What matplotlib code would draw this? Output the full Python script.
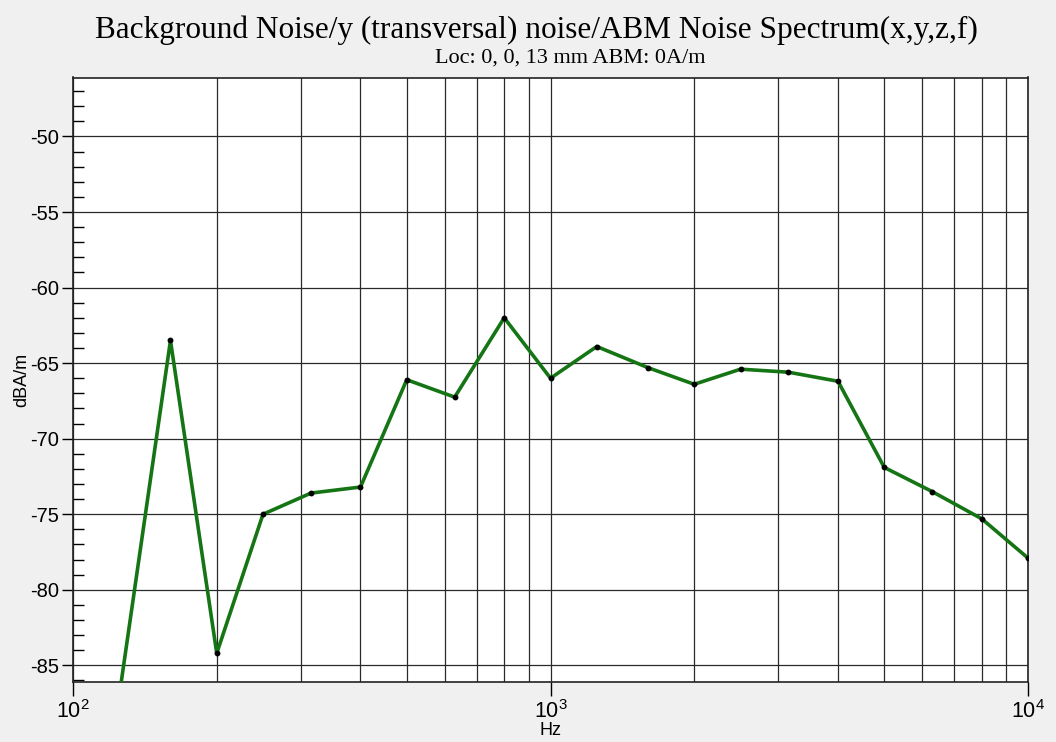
import matplotlib
matplotlib.use('Agg')
import matplotlib.pyplot as plt
from matplotlib.ticker import LogLocator, MultipleLocator, NullFormatter

# third-octave band centre frequencies (Hz) and measured noise (dBA/m)
freqs = [125, 160, 200, 250, 315, 400, 500, 630, 800, 1000,
         1250, 1600, 2000, 2500, 3150, 4000, 5000, 6300, 8000, 10000]
noise = [-87.0, -63.5, -84.2, -75.0, -73.6, -73.2, -66.1, -67.25, -62.0, -66.0,
         -63.9, -65.3, -66.4, -65.4, -65.6, -66.2, -71.9, -73.5, -75.3, -77.9]

title = "Background Noise/y (transversal) noise/ABM Noise Spectrum(x,y,z,f)"
subtitle = "Loc: 0, 0, 13 mm ABM: 0A/m"
xlabel = "Hz"
ylabel = "dBA/m"

plt.rcParams['font.family'] = ['Liberation Sans', 'DejaVu Sans']
plt.rcParams['mathtext.default'] = 'regular'
plt.rcParams['axes.unicode_minus'] = False

fig = plt.figure(figsize=(10.56, 7.42), dpi=100, facecolor='#f0f0f0')
ax = fig.add_axes([73 / 1056, 60 / 742, 955 / 1056, 604.5 / 742])
ax.set_facecolor('white')

ax.plot(freqs, noise, color='#157515', linewidth=2.6, marker='o',
        markersize=3.2, markerfacecolor='black', markeredgecolor='black',
        zorder=3)

ax.set_xscale('log')
ax.set_xlim(100, 10000)
ax.set_ylim(-86.1, -46.1)

# x axis: decades labelled, grid on every minor position
ax.xaxis.set_major_locator(LogLocator(base=10, numticks=10))
ax.xaxis.set_minor_locator(LogLocator(base=10, subs=range(2, 10), numticks=20))
ax.xaxis.set_minor_formatter(NullFormatter())
ax.tick_params(axis='x', which='major', direction='out', length=10, width=1,
               labelsize=15.5, pad=3)
ax.tick_params(axis='x', which='minor', length=0)

# y axis: labels every 5, small inward ticks every 1
ax.yaxis.set_major_locator(MultipleLocator(5))
ax.yaxis.set_minor_locator(MultipleLocator(1))
ax.tick_params(axis='y', which='major', direction='out', length=8, width=1,
               labelsize=14.5, pad=2)
ax.tick_params(axis='y', which='minor', direction='in', length=8, width=1)

ax.grid(True, axis='x', which='both', color='#2a2a2a', linewidth=0.9)
ax.grid(True, axis='y', which='major', color='#2a2a2a', linewidth=0.9)
ax.set_axisbelow(True)

for side in ['left', 'bottom', 'top', 'right']:
    ax.spines[side].set_color('#222222')
    ax.spines[side].set_linewidth(1.2)

ax.set_xlabel(xlabel, fontsize=13, labelpad=-1)
ax.set_ylabel(ylabel, fontsize=13, labelpad=0)

fig.text(536 / 1056, 1 - 38 / 742, title, family='Liberation Serif',
         fontsize=22.5, ha='center', va='baseline')
fig.text(570 / 1056, 1 - 63 / 742, subtitle, family='Liberation Serif',
         fontsize=16, ha='center', va='baseline')

fig.savefig('out.png', dpi=100, facecolor=fig.get_facecolor())
